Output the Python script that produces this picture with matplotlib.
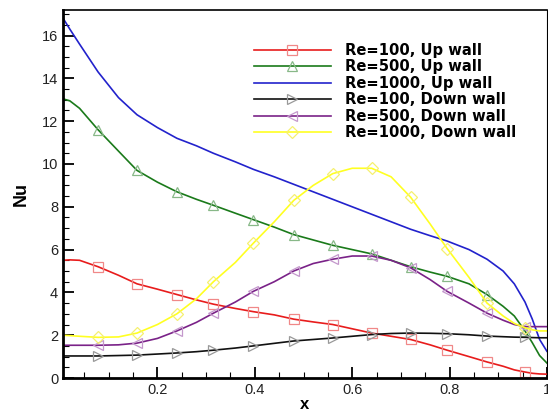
import matplotlib
matplotlib.use("Agg")
import matplotlib.pyplot as plt
from matplotlib.ticker import MultipleLocator

plt.rcParams['font.family'] = ['Liberation Sans', 'DejaVu Sans']

# shared x positions along the wall
x = [0.005, 0.02, 0.04, 0.078, 0.12, 0.158, 0.2, 0.24, 0.28, 0.315, 0.36, 0.397, 0.44,
     0.48, 0.52, 0.56, 0.6, 0.64, 0.68, 0.72, 0.76, 0.795, 0.84, 0.877, 0.91,
     0.933, 0.955, 0.97, 0.985, 1.0]

re100_up = [5.5, 5.52, 5.5, 5.2, 4.8, 4.4, 4.15, 3.9, 3.65, 3.45, 3.25, 3.1, 2.95, 2.75,
            2.62, 2.5, 2.3, 2.1, 1.95, 1.8, 1.55, 1.3, 1.0, 0.75, 0.55, 0.38, 0.28,
            0.22, 0.19, 0.18]
re500_up = [13.05, 12.95, 12.6, 11.6, 10.6, 9.7, 9.15, 8.7, 8.35, 8.07, 7.7, 7.4, 7.05, 6.7,
            6.45, 6.2, 6.0, 5.8, 5.5, 5.2, 4.95, 4.75, 4.4, 3.9, 3.35, 2.9, 2.2,
            1.65, 1.05, 0.7]
re1000_up = [16.85, 16.3, 15.6, 14.3, 13.1, 12.3, 11.7, 11.2, 10.85, 10.5, 10.1, 9.75, 9.4,
             9.05, 8.7, 8.35, 8.0, 7.65, 7.3, 6.95, 6.65, 6.4, 6.0, 5.55, 5.0, 4.4,
             3.55, 2.75, 1.8, 1.25]
re100_down = [1.03, 1.03, 1.03, 1.03, 1.05, 1.07, 1.12, 1.17, 1.23, 1.3, 1.4, 1.5, 1.62,
              1.73, 1.8, 1.87, 1.95, 2.03, 2.08, 2.1, 2.09, 2.07, 2.02, 1.96, 1.93,
              1.91, 1.9, 1.89, 1.88, 1.88]
re500_down = [1.53, 1.53, 1.53, 1.53, 1.55, 1.63, 1.85, 2.2, 2.6, 3.03, 3.55, 4.05, 4.5,
              5.0, 5.35, 5.55, 5.7, 5.7, 5.5, 5.15, 4.6, 4.05, 3.5, 3.03, 2.7, 2.5,
              2.4, 2.4, 2.4, 2.4]
re1000_down = [2.0, 1.98, 1.95, 1.9, 1.92, 2.1, 2.5, 3.0, 3.7, 4.5, 5.4, 6.3, 7.3, 8.3,
               9.0, 9.55, 9.8, 9.8, 9.4, 8.45, 7.2, 6.05, 4.7, 3.5, 2.9, 2.55, 2.35,
               2.25, 2.2, 2.2]

labels = ["Re=100, Up wall", "Re=500, Up wall", "Re=1000, Up wall",
          "Re=100, Down wall", "Re=500, Down wall", "Re=1000, Down wall"]

# indices of x where symbols are drawn
mark_idx = [3, 5, 7, 9, 11, 13, 15, 17, 19, 21, 23, 26]

fig = plt.figure(figsize=(5.48, 4.12), dpi=100)
ax = fig.add_axes([0.115, 0.0825, 0.883, 0.8935])

series = [
    (re100_up, "#e81c1c", "s", "#f08888"),
    (re500_up, "#1a7a1a", "^", "#88b888"),
    (re1000_up, "#2222cc", None, None),
    (re100_down, "#111111", ">", "#999999"),
    (re500_down, "#7a2288", "<", "#c498cc"),
    (re1000_down, "#ffff22", "D", "#f5f070"),
]

for (vals, c, m, mc), lab in zip(series, labels):
    if m is None:
        ax.plot(x, vals, color=c, lw=1.2, label=lab)
    else:
        ms = 6 if m == "D" else 7
        ax.plot(x, vals, color=c, lw=1.2, marker=m, markevery=mark_idx,
                markersize=ms, markerfacecolor="none", markeredgecolor=mc,
                markeredgewidth=0.9, label=lab)

ax.set_xlim(0.006, 1.0)
ax.set_ylim(0, 17.2)
ax.set_xticks([0.2, 0.4, 0.6, 0.8, 1.0])
ax.set_xticklabels(["0.2", "0.4", "0.6", "0.8", "1"])
ax.set_yticks(range(0, 17, 2))
ax.xaxis.set_minor_locator(MultipleLocator(0.05))
ax.yaxis.set_minor_locator(MultipleLocator(0.5))
ax.tick_params(which="both", direction="in", top=False, right=False,
               labelsize=10.5, labelcolor="#222222", width=1.3)
ax.tick_params(which="major", length=8)
ax.tick_params(which="minor", length=4, width=0.8)

ax.spines["left"].set_linewidth(2)
ax.spines["bottom"].set_linewidth(2)
ax.spines["top"].set_linewidth(1.2)
ax.spines["right"].set_linewidth(0.8)

ax.set_xlabel("x", fontsize=12, fontweight="bold", labelpad=0)
ax.set_ylabel("Nu", fontsize=13, fontweight="bold", labelpad=9)

ax.legend(loc="upper left", bbox_to_anchor=(254 / 548, 1 - 43 / 412),
          bbox_transform=fig.transFigure, frameon=False,
          handlelength=5.2, handletextpad=0.95, labelspacing=0.1,
          borderaxespad=0, borderpad=0,
          prop={"family": "DejaVu Sans", "weight": "bold", "size": 10.6})

fig.savefig("out.png", dpi=100)
